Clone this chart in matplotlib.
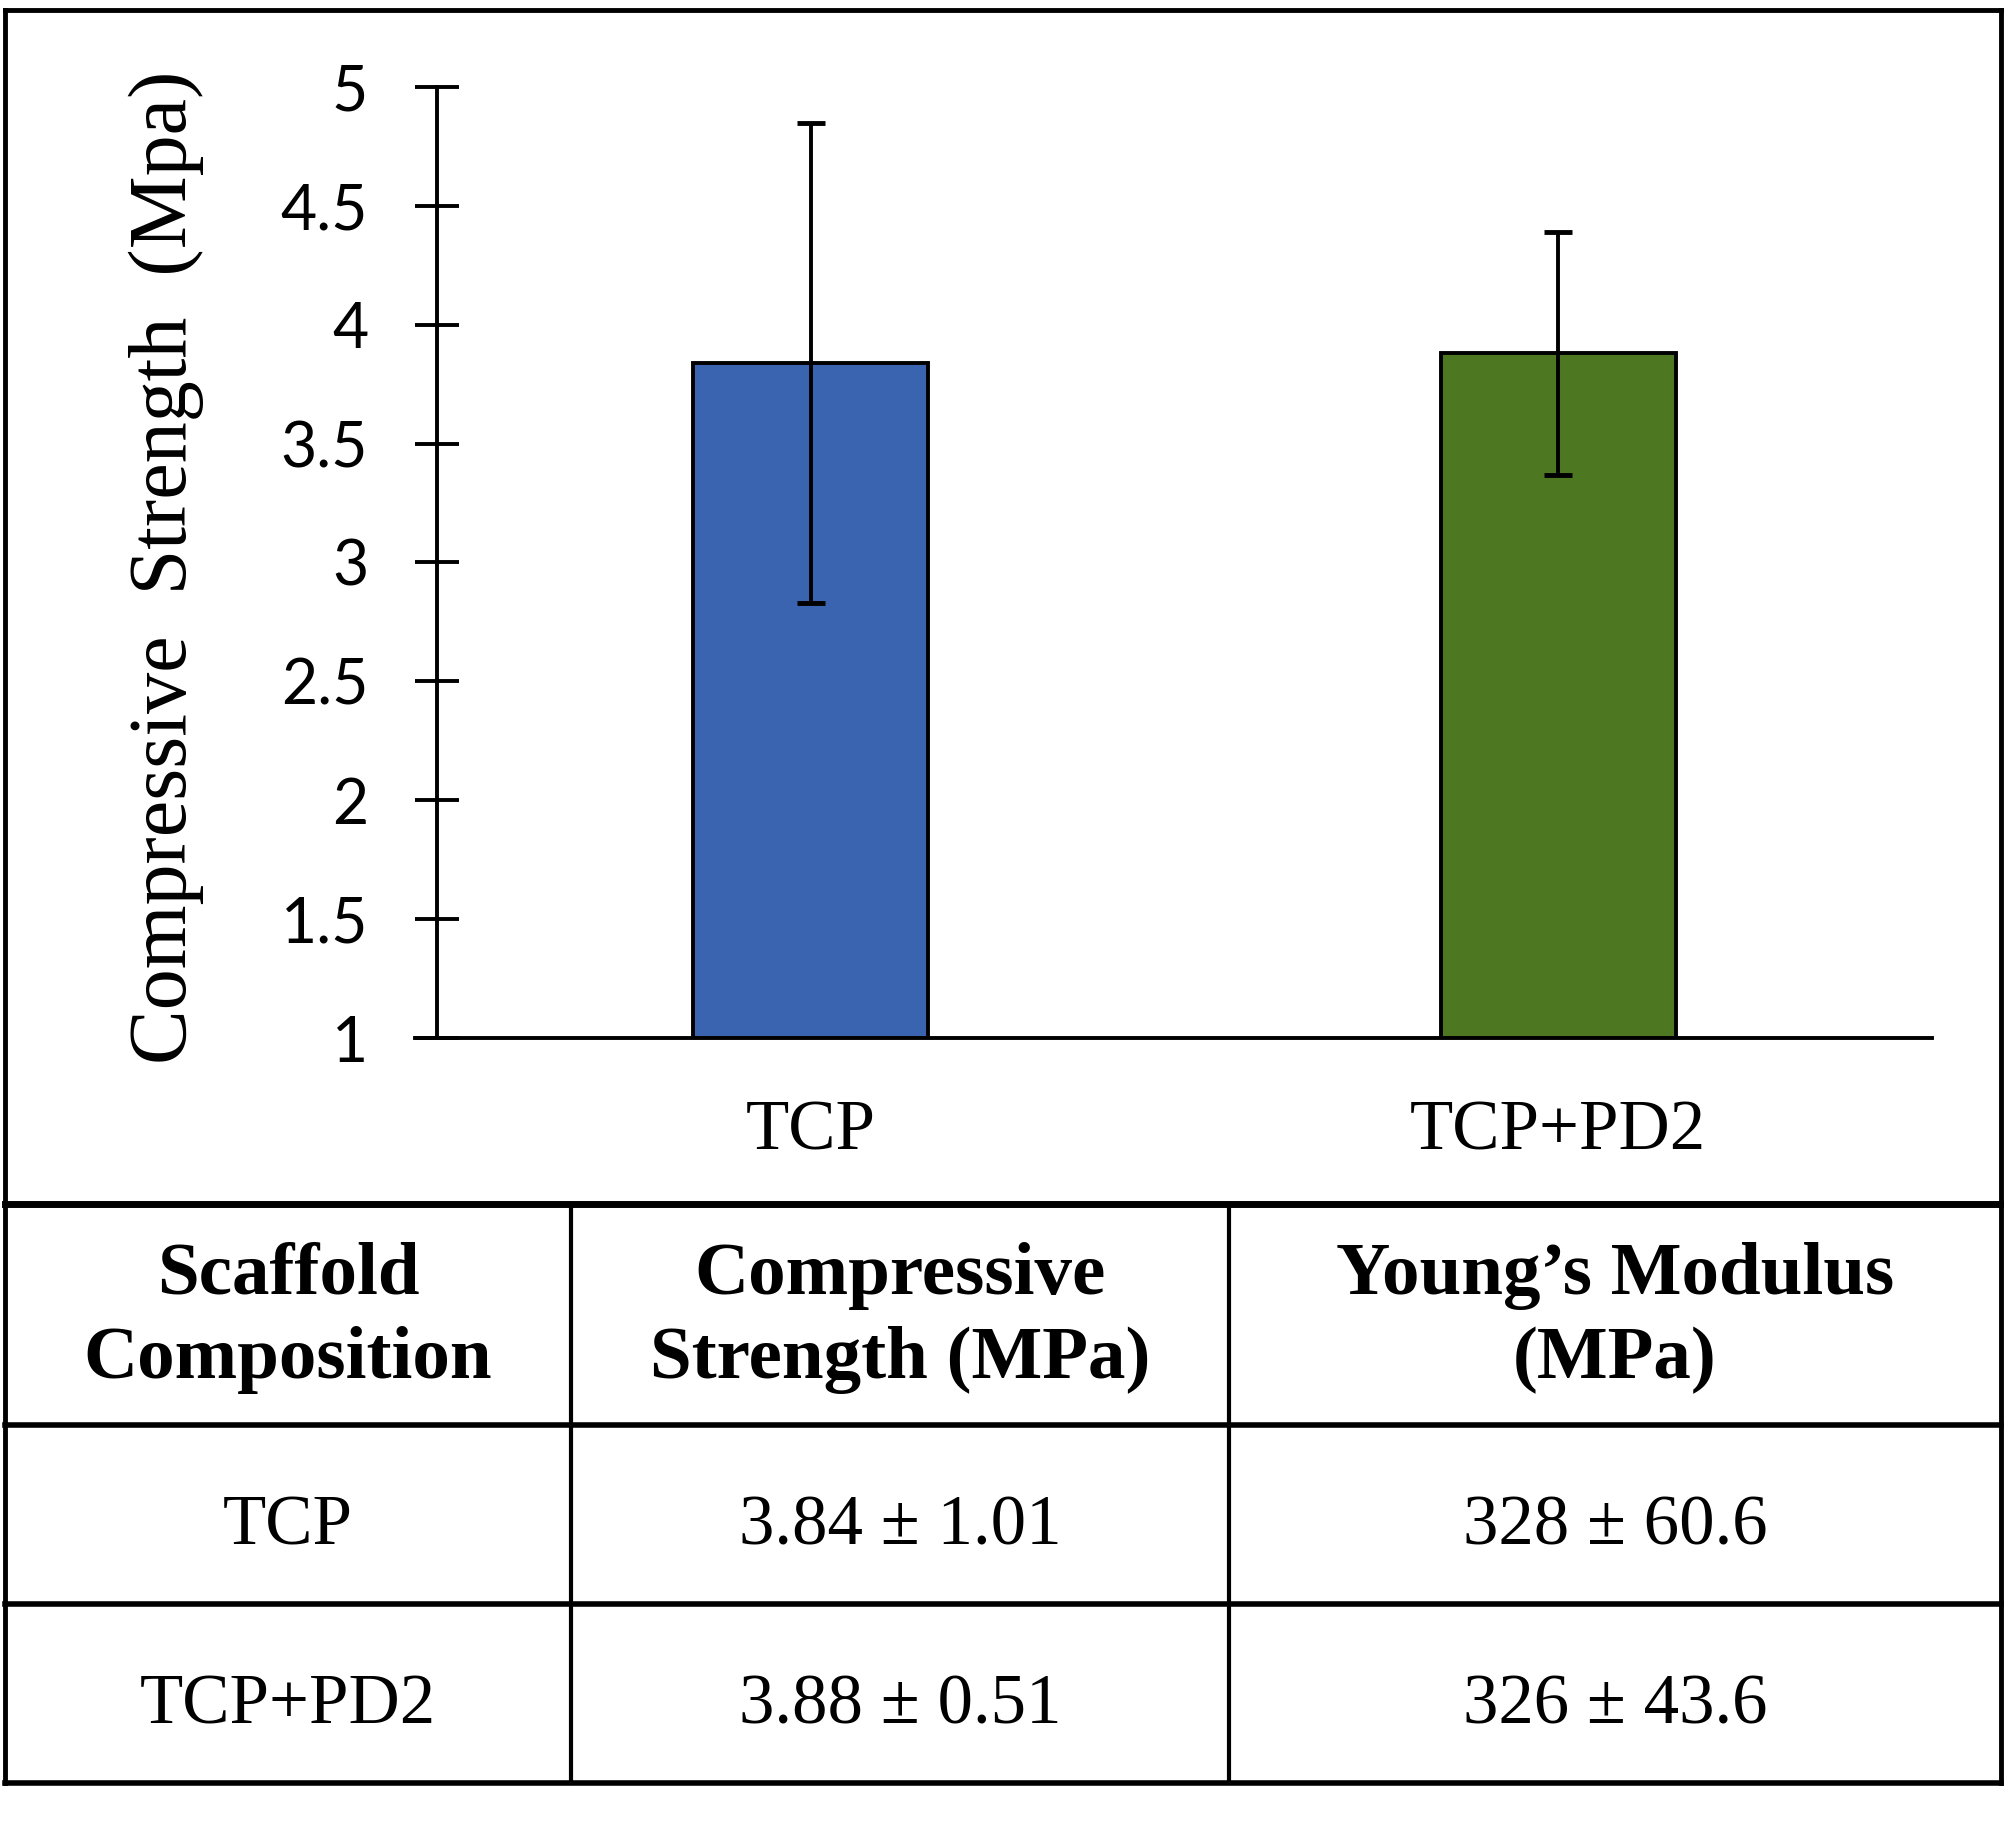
import numpy as np
import matplotlib
matplotlib.use('Agg')
from matplotlib import pyplot as plt
from matplotlib.lines import Line2D

# data
categories = ['TCP', 'TCP+PD2']
strength_mean = [3.84, 3.88]
strength_sd = [1.01, 0.51]
modulus_mean = [328, 326]
modulus_sd = [60.6, 43.6]
bar_colors = ['#3A63B0', '#4E7722']
y_ticks = [1, 1.5, 2, 2.5, 3, 3.5, 4, 4.5, 5]
header = ['Scaffold\nComposition', 'Compressive\nStrength (MPa)', 'Young\u2019s Modulus\n(MPa)']

W, H = 2004, 1826
fig = plt.figure(figsize=(W/100, H/100), dpi=100)

def fx(px):
    return px / W

def fy(py):
    return 1 - py / H

serif = 'Liberation Serif'

# chart area
ax = fig.add_axes([fx(415), fy(1038), (1932-415)/W, (1038-87)/H])
x = np.arange(len(categories))
ax.bar(x, [m - 1 for m in strength_mean], bottom=1, width=0.314,
       color=bar_colors, edgecolor='black', linewidth=2.8, zorder=2)
ax.errorbar(x, strength_mean, yerr=strength_sd, fmt='none', ecolor='black',
            elinewidth=2.8, capsize=10, capthick=3.5, zorder=3)
ax.set_xlim(-0.5 - 22/747.5, 1.5)
ax.set_ylim(1, 5)
for s in ['top', 'right']:
    ax.spines[s].set_visible(False)
ax.spines['left'].set_position(('data', -0.5))
ax.spines['left'].set_linewidth(2.8)
ax.spines['bottom'].set_linewidth(2.8)
ax.set_yticks(y_ticks, labels=['{:g}'.format(t) for t in y_ticks])
ax.tick_params(axis='y', direction='inout', length=31, width=2.8, pad=34,
               labelsize=45)
for lab in ax.get_yticklabels():
    lab.set_fontfamily('Lato')
ax.set_xticks(x, labels=categories)
ax.tick_params(axis='x', length=0, pad=44, labelsize=51)
for lab in ax.get_xticklabels():
    lab.set_fontfamily(serif)

fig.text(fx(166), fy(567), 'Compressive  Strength  (Mpa)', rotation=90,
         ha='center', va='center', fontsize=59, fontfamily=serif)

# frame and table lines
def hline(y, x0, x1, lw):
    fig.add_artist(Line2D([fx(x0), fx(x1)], [fy(y), fy(y)], color='black',
                          linewidth=lw, transform=fig.transFigure))

def vline(xp, y0, y1, lw):
    fig.add_artist(Line2D([fx(xp), fx(xp)], [fy(y0), fy(y1)], color='black',
                          linewidth=lw, transform=fig.transFigure))

hline(10, 5, 2001, 3.5)
hline(1783, 5, 2001, 4)
vline(5, 10, 1783, 3.5)
vline(2001, 10, 1783, 3.5)
hline(1204, 5, 2001, 5)
hline(1425, 5, 2001, 4)
hline(1604, 5, 2001, 4)
vline(571, 1204, 1783, 3)
vline(1229, 1204, 1783, 3)

col_x = [288, 900, 1615]
for cx, txt in zip(col_x, header):
    fig.text(fx(cx), fy(1318), txt, ha='center', va='center', fontsize=54,
             fontweight='bold', fontfamily=serif, linespacing=1.32)

row_y = [1527, 1706]
for i, ry in enumerate(row_y):
    cells = [categories[i],
             '{:.2f} \u00b1 {:.2f}'.format(strength_mean[i], strength_sd[i]),
             '{} \u00b1 {}'.format(modulus_mean[i], modulus_sd[i])]
    for cx, txt in zip(col_x, cells):
        fig.text(fx(cx), fy(ry), txt, ha='center', va='center', fontsize=51,
                 fontfamily=serif)

fig.savefig('out.png', dpi=100)
